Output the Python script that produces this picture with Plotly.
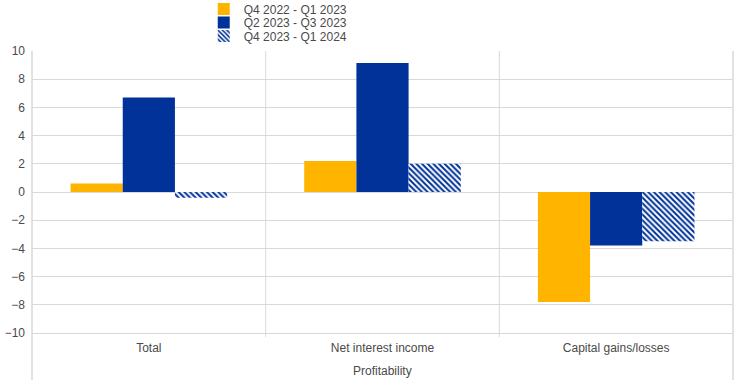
import plotly.graph_objects as go

categories = ["Total", "Net interest income", "Capital gains/losses"]
series_names = ["Q4 2022 - Q1 2023", "Q2 2023 - Q3 2023", "Q4 2023 - Q1 2024"]
s1 = [0.6, 2.2, -7.8]
s2 = [6.7, 9.15, -3.8]
s3 = [-0.4, 2.0, -3.5]
y_ticks = [-10, -8, -6, -4, -2, 0, 2, 4, 6, 8, 10]
axis_title = "Profitability"

YELLOW = "#FFB400"
BLUE = "#003299"
GRID = "#d9d9d9"
TXT = "#4a4a4a"
FONT = "Liberation Sans, Arial, sans-serif"

fig = go.Figure()
fig.add_bar(x=categories, y=s1, name=series_names[0], legend="legend",
            marker=dict(color=YELLOW, line=dict(width=0)))
fig.add_bar(x=categories, y=s2, name=series_names[1], legend="legend2",
            marker=dict(color=BLUE, line=dict(width=0)))
fig.add_bar(x=categories, y=s3, name=series_names[2], legend="legend3",
            marker=dict(color="white", line=dict(width=0),
                        pattern=dict(shape="\\", fgcolor=BLUE, bgcolor="white", size=4,
                                     solidity=0.5, fgopacity=1)))

shapes = []
for xp in (0, 1):
    shapes.append(dict(type="line", xref="paper", yref="paper", x0=xp, x1=xp, y0=-0.167, y1=1,
                       line=dict(color=GRID, width=1.5)))
for xc in (0.5, 1.5):
    shapes.append(dict(type="line", xref="x", yref="paper", x0=xc, x1=xc, y0=-0.015, y1=1,
                       line=dict(color=GRID, width=1)))

def leg(ypx):
    return dict(x=0.245, xanchor="left", yref="container", y=1 - ypx / 384, yanchor="middle",
                bgcolor="rgba(0,0,0,0)", font=dict(size=12, color=TXT), itemwidth=30,
                borderwidth=0)

fig.update_layout(
    width=744, height=384,
    margin=dict(l=32, r=11, t=51, b=51, autoexpand=False),
    paper_bgcolor="white", plot_bgcolor="white",
    font=dict(family=FONT, size=12, color=TXT),
    barmode="group", bargap=0.33, bargroupgap=0,
    shapes=shapes,
    showlegend=True,
    legend=leg(9), legend2=leg(22.5), legend3=leg(36),
    annotations=[dict(text=axis_title, xref="paper", yref="paper", x=0.5, y=-0.135,
                      xanchor="center", yanchor="middle", showarrow=False,
                      font=dict(size=12, color=TXT))],
)
fig.update_yaxes(range=[-10, 10], tickvals=y_ticks, showgrid=True, gridcolor=GRID, gridwidth=1,
                 zeroline=False, showline=False, ticks="", tickfont=dict(size=12, color=TXT),
                 ticklabelstandoff=6)
fig.update_xaxes(showgrid=False, showline=True, linecolor=GRID, linewidth=1, ticks="",
                 tickfont=dict(size=12, color=TXT), range=[-0.5, 2.5], ticklabelstandoff=4)

fig.write_html("out.html", config={"displayModeBar": False},
               post_script="document.body.style.margin='0';document.body.style.padding='0';")
